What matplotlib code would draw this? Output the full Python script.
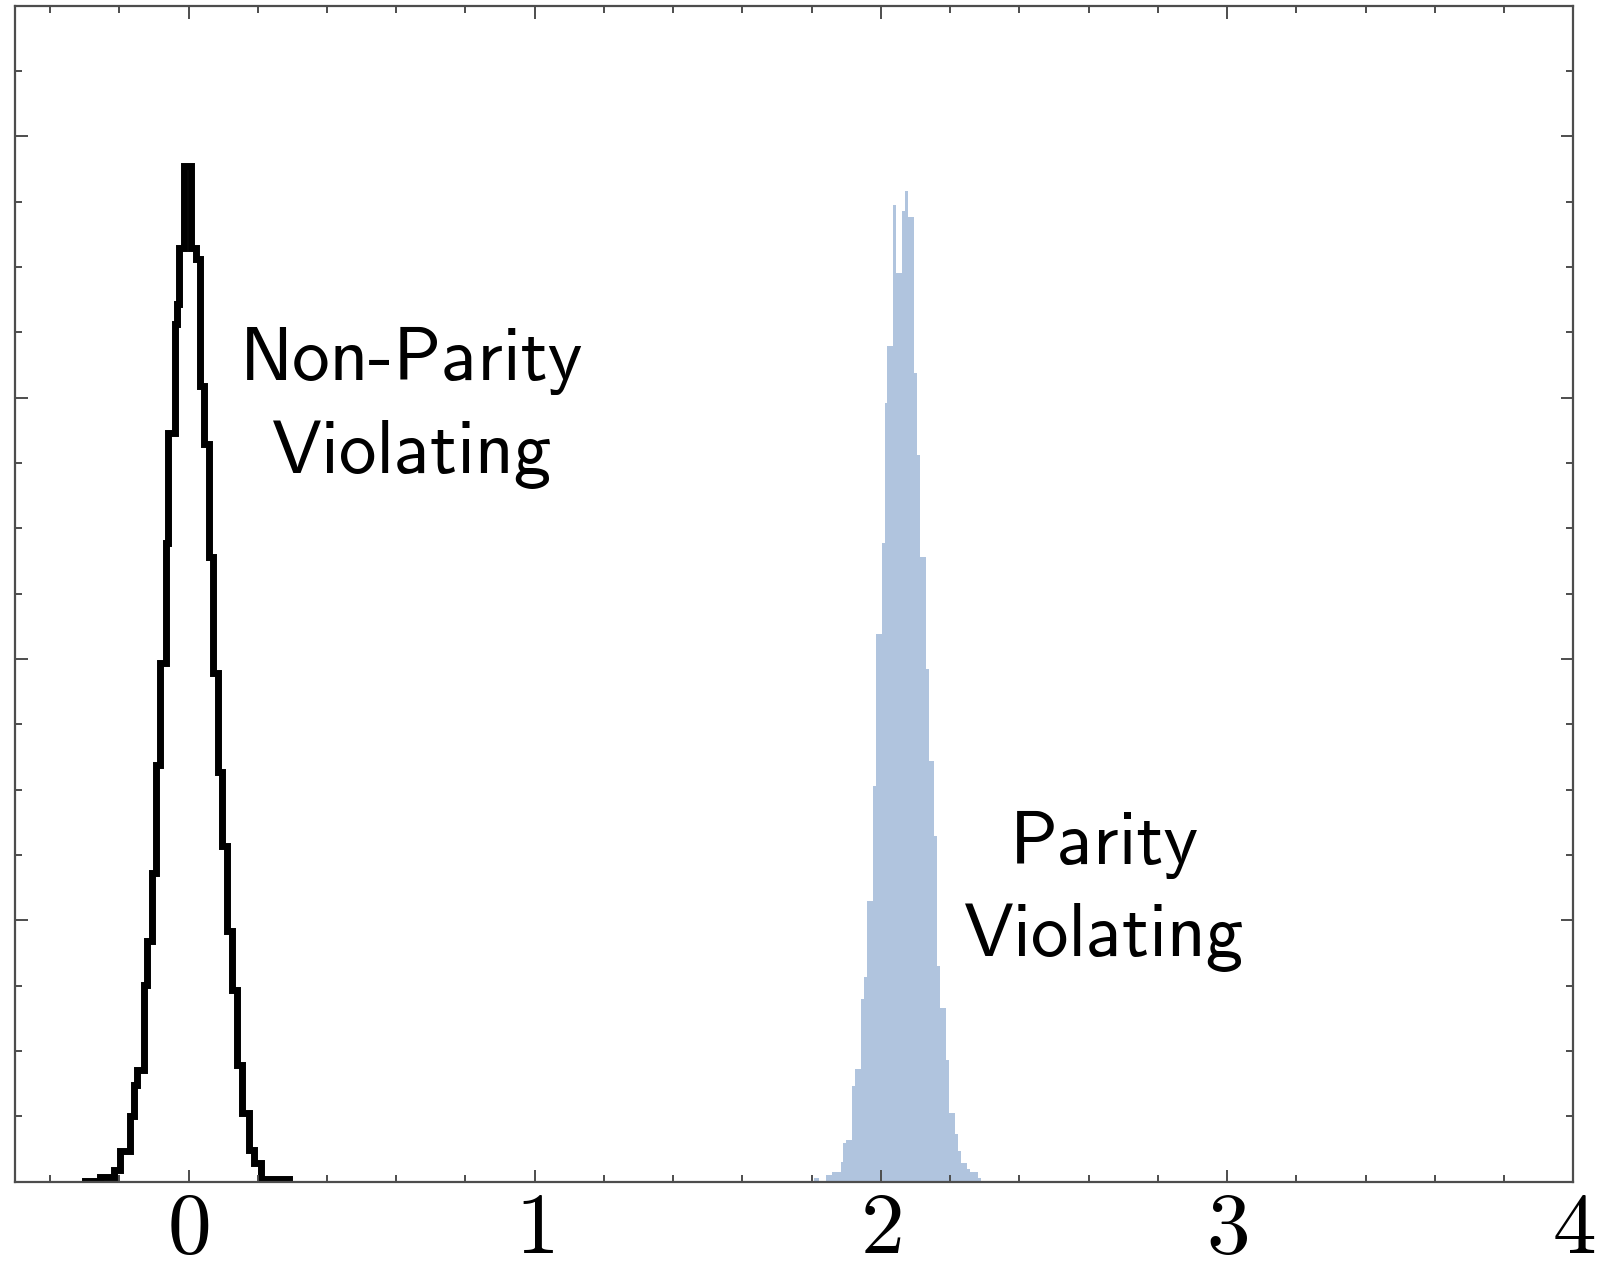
import numpy as np
import matplotlib
matplotlib.use("Agg")
import matplotlib.pyplot as plt
from matplotlib.ticker import MultipleLocator, NullFormatter, FuncFormatter

plt.rcParams['mathtext.fontset'] = 'cm'

# non-parity-violating distribution (step outline), bin edges and heights
npv_edges = [-0.2981, -0.2547, -0.2161, -0.1988, -0.1679, -0.1582, -0.1486, -0.1293,
             -0.1196, -0.1052, -0.0926, -0.0810, -0.0646, -0.0598, -0.0396, -0.0328,
             -0.0260, -0.0135, 0.0077, 0.0203, 0.0328, 0.0444, 0.0588, 0.0704,
             0.0849, 0.0974, 0.1119, 0.1264, 0.1409, 0.1553, 0.1746, 0.1891,
             0.2084, 0.2904]
npv_heights = [0.004, 0.019, 0.046, 0.116, 0.25, 0.371, 0.429, 0.754, 0.92, 1.182,
               1.596, 1.985, 2.445, 2.866, 3.28, 3.357, 3.574, 3.886, 3.574, 3.529,
               3.044, 2.821, 2.392, 1.948, 1.566, 1.283, 0.958, 0.735, 0.448, 0.263,
               0.122, 0.07, 0.01]

# parity-violating distribution (filled)
pv_edges = [1.8051, 1.8215, 1.8408, 1.8582, 1.8842, 1.8900, 1.8987, 1.9161, 1.9247,
            1.9421, 1.9508, 1.9595, 1.9768, 1.9855, 2.0029, 2.0116, 2.0174, 2.0347,
            2.0434, 2.0608, 2.0695, 2.0781, 2.0955, 2.1042, 2.1129, 2.1302, 2.1389,
            2.1534, 2.1621, 2.1708, 2.1881, 2.1968, 2.2142, 2.2229, 2.2315, 2.2489,
            2.2576, 2.2808, 2.2894]
pv_heights = [0.014, 0.0, 0.027, 0.039, 0.074, 0.15, 0.161, 0.365, 0.433, 0.70,
              0.782, 1.073, 1.513, 2.094, 2.442, 2.981, 3.196, 3.736, 3.476, 3.713,
              3.79, 3.69, 3.093, 2.779, 2.389, 1.96, 1.611, 1.321, 0.827, 0.665,
              0.467, 0.263, 0.184, 0.119, 0.072, 0.049, 0.038, 0.015]

fig = plt.figure(figsize=(16.02, 12.68), dpi=100)
ax = fig.add_axes([0.0096, 0.068, 0.9726, 0.9276])

ax.stairs(pv_heights, pv_edges, fill=True, color='#b0c4de', lw=0)
ax.stairs(npv_heights, npv_edges, color='black', lw=5)

ax.text(0.645, 2.96, 'Non-Parity\nViolating', family='cmss10', fontsize=54,
        ha='center', va='center', linespacing=1.46)
ax.text(2.644, 1.11, 'Parity\nViolating', family='cmss10', fontsize=54,
        ha='center', va='center', linespacing=1.46)

ax.set_xlim(-0.5, 4)
ax.set_ylim(0, 4.5)
ax.xaxis.set_major_locator(MultipleLocator(1))
ax.xaxis.set_minor_locator(MultipleLocator(0.2))
ax.xaxis.set_major_formatter(FuncFormatter(lambda v, p: r'$%d$' % round(v)))
ax.yaxis.set_major_locator(MultipleLocator(1))
ax.yaxis.set_minor_locator(MultipleLocator(0.25))
ax.yaxis.set_major_formatter(NullFormatter())

for s in ax.spines.values():
    s.set_color('#4d4d4d')
    s.set_linewidth(1.6)
ax.tick_params(which='both', direction='in', top=True, right=True, color='#4d4d4d', width=1.4)
ax.tick_params(which='major', length=9, labelsize=63, pad=4)
ax.tick_params(which='minor', length=5)

fig.savefig('out.png', dpi=100)
